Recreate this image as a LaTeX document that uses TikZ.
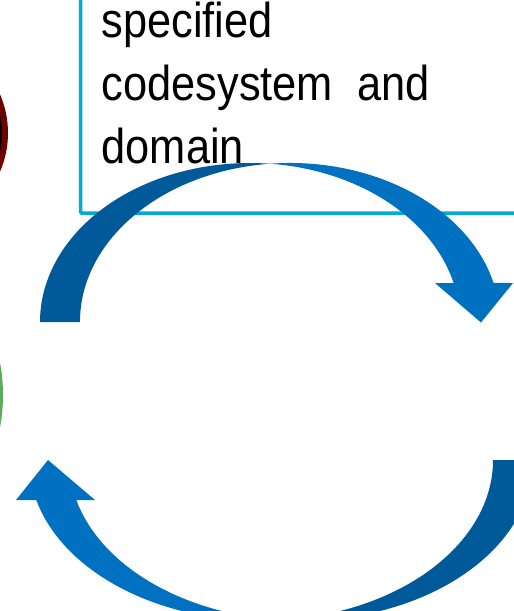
\documentclass[tikz,border=0pt]{standalone}
\usepackage{fontspec}
\newfontfamily\boxfont[FakeStretch=0.885]{Liberation Sans}
\definecolor{arrowlight}{RGB}{0,112,192}
\definecolor{arrowdark}{RGB}{0,90,154}
\definecolor{boxcyan}{RGB}{0,170,212}
\definecolor{ringred}{RGB}{110,0,0}
\definecolor{ringgreen}{RGB}{92,172,92}
\tikzset{
  boxline/.style={draw=boxcyan, line width=3.5pt, rounded corners=1pt},
  boxtext/.style={anchor=base west, inner sep=0pt, font=\boxfont\fontsize{49}{63}\selectfont},
  darkband/.style={fill=arrowdark},
  lightband/.style={fill=arrowlight},
  toparc/.style={x radius=210, y radius=159},
  lowarc/.style={x radius=232, y radius=160.6}
}
\begin{document}
\begin{tikzpicture}[x=1pt,y=-1pt]
		\useasboundingbox (0,0) rectangle (514,611);
		\clip (0,0) rectangle (514,611);
		\draw[ringred, line width=6pt, fill=black] (-89,133) circle[radius=94];
		\draw[ringgreen, line width=4pt, fill=white] (-174,395) circle[radius=175];
		\draw[boxline] (80.5,-20) rectangle (540,213);
		\node[boxtext] (line1) at (101.5,37) {specified};
		\node[boxtext] (line2) at (101.5,100) {codesystem~~and};
		\node[boxtext] (line3) at (101.5,163.3) {domain};
		% upper arrow
		\fill[darkband] (40,322) arc[toparc, start angle=180, end angle=275.46]
			arc[toparc, start angle=264.54, end angle=180] -- cycle;
		\fill[lightband] (270,163.7) arc[toparc, start angle=-95.46, end angle=-14.2]
			-- (513,283) -- (481,322.5) -- (435,283) -- (453.6,283)
			arc[toparc, start angle=-14.2, end angle=-84.54] -- cycle;
		% lower arrow
		\fill[darkband] (493,460) arc[lowarc, start angle=0, end angle=85.05]
			arc[lowarc, start angle=94.95, end angle=0] -- cycle;
		\fill[lightband] (281,620) arc[lowarc, start angle=85.05, end angle=165.58]
			-- (16,500) -- (48,460) -- (95,500) -- (76.3,500)
			arc[lowarc, start angle=165.58, end angle=94.95] -- cycle;
\end{tikzpicture}
\end{document}
